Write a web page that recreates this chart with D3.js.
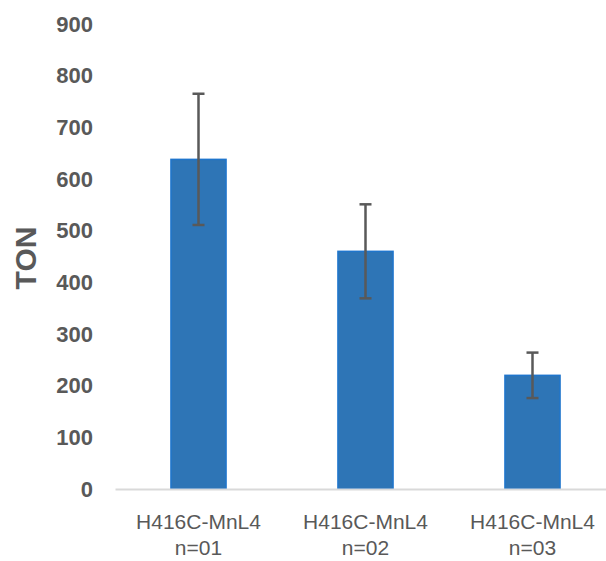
<!DOCTYPE html>
<html>
<head>
<meta charset="utf-8">
<script src="https://cdn.jsdelivr.net/npm/d3@7"></script>
<style>
  html, body { margin: 0; padding: 0; background: #fff; }
  svg { display: block; }
</style>
</head>
<body>
<svg id="chart" width="606" height="561"></svg>
<script>
const categories = ["H416C-MnL4\nn=01", "H416C-MnL4\nn=02", "H416C-MnL4\nn=03"];
const values = [638, 460, 220];
const errors = [127, 91, 44];
const yTicks = [0, 100, 200, 300, 400, 500, 600, 700, 800, 900];
const yTitle = "TON";

const svg = d3.select("#chart");
const x = d3.scaleBand().domain(categories).range([115, 616]).paddingInner(0.67).paddingOuter(0.335);
const y = d3.scaleLinear().domain([0, 900]).range([489, 24]);

const grey = "#595959";

// y tick labels
const yAxis = d3.axisLeft(y).tickValues(yTicks).tickSize(0).tickPadding(0);
const gy = svg.append("g").attr("transform", "translate(93,0)").call(yAxis);
gy.select(".domain").remove();
gy.selectAll("text")
  .attr("fill", grey)
  .style("font-family", "'Liberation Sans', Arial, sans-serif")
  .style("font-size", "22px")
  .style("font-weight", "bold");

// bars
svg.append("g").selectAll("rect").data(categories).join("rect")
  .attr("x", d => x(d))
  .attr("y", (d, i) => y(values[i]))
  .attr("width", x.bandwidth())
  .attr("height", (d, i) => y(0) - y(values[i]))
  .attr("fill", "#2E75B6")
  .attr("stroke", "#1F75CC")
  .attr("stroke-width", 1.5);

// x axis line
const xAxis = d3.axisBottom(x).tickSize(0).tickFormat("");
const gx = svg.append("g").attr("transform", `translate(0,${y(0)})`).call(xAxis);
gx.select(".domain").attr("stroke", "#d9d9d9").attr("stroke-width", 2);

// error bars
const eg = svg.append("g").attr("stroke", grey).attr("stroke-width", 2.5);
categories.forEach((c, i) => {
  const cx = x(c) + x.bandwidth() / 2;
  const top = y(values[i] + errors[i]);
  const bot = y(values[i] - errors[i]);
  eg.append("line").attr("x1", cx).attr("x2", cx).attr("y1", top).attr("y2", bot);
  eg.append("line").attr("x1", cx - 6).attr("x2", cx + 6).attr("y1", top).attr("y2", top);
  eg.append("line").attr("x1", cx - 6).attr("x2", cx + 6).attr("y1", bot).attr("y2", bot);
});

// x labels
categories.forEach(c => {
  const cx = x(c) + x.bandwidth() / 2;
  const t = svg.append("text")
    .attr("text-anchor", "middle")
    .attr("fill", grey)
    .style("font-family", "'Liberation Sans', Arial, sans-serif")
    .style("font-size", "21px");
  c.split("\n").forEach((line, j) => {
    t.append("tspan").attr("x", cx).attr("y", 529 + j * 26).text(line);
  });
});

// y title
svg.append("text")
  .attr("transform", "translate(36,258) rotate(-90)")
  .attr("text-anchor", "middle")
  .attr("fill", grey)
  .style("font-family", "'Liberation Sans', Arial, sans-serif")
  .style("font-size", "30px")
  .style("font-weight", "bold")
  .text(yTitle);
</script>
</body>
</html>
